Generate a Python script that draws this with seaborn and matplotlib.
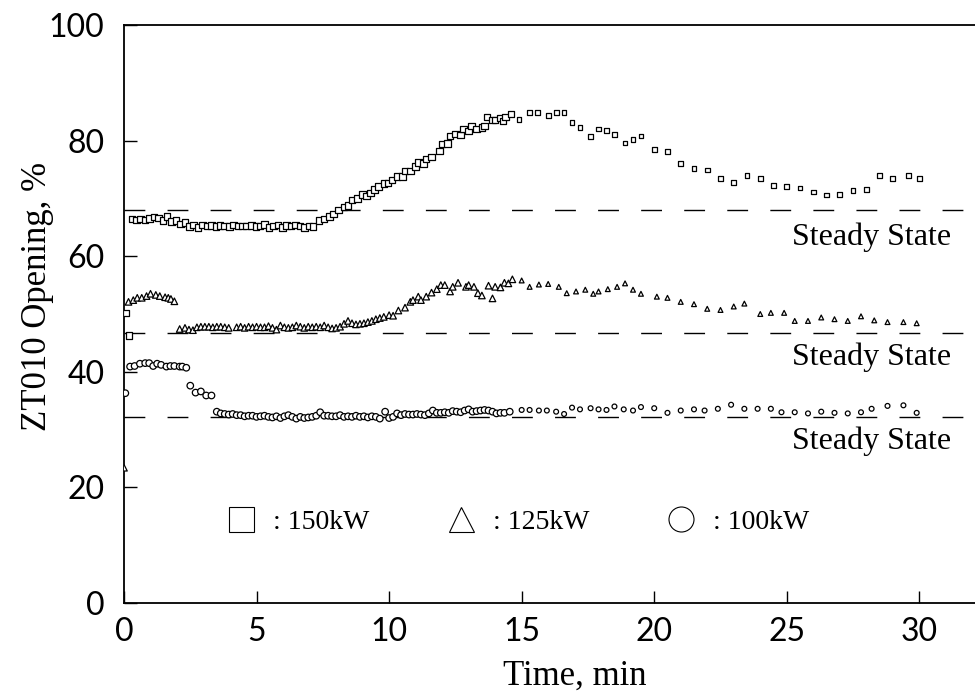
import pandas as pd
import matplotlib
matplotlib.use("Agg")
import matplotlib.pyplot as plt
from matplotlib.lines import Line2D
import seaborn as sns

# --- data (time in min, ZT010 opening in %) ---
t_150 = [0.08, 0.19,
         0.30, 0.47, 0.63, 0.80, 0.97, 1.13, 1.30, 1.47, 1.63, 1.80, 1.97, 2.13, 2.30, 2.47,
         2.63, 2.80, 2.97, 3.13, 3.30, 3.47, 3.63, 3.80, 3.97, 4.13, 4.30, 4.47, 4.63, 4.80,
         4.97, 5.13, 5.30, 5.47, 5.63, 5.80, 5.97, 6.13, 6.30, 6.47, 6.63, 6.80, 6.97, 7.13,
         7.35, 7.55, 7.75, 7.90, 8.10, 8.30, 8.45, 8.60, 8.80, 9.00, 9.15, 9.30, 9.45, 9.60,
         9.80, 9.95, 10.1, 10.3, 10.5, 10.6, 10.8, 11.0, 11.1, 11.3, 11.4, 11.6, 11.9, 12.0,
         12.2, 12.3, 12.5, 12.7, 12.8, 13.0, 13.1, 13.3, 13.5, 13.6, 13.7, 13.9, 14.0, 14.2,
         14.3, 14.4, 14.6,
         14.9, 15.3, 15.6, 16.0, 16.3, 16.6, 16.9, 17.2, 17.6, 17.9, 18.2, 18.5, 18.9, 19.2,
         19.5, 20.0, 20.5, 21.0, 21.5, 22.0, 22.5, 23.0, 23.5, 24.0, 24.5, 25.0, 25.5, 26.0,
         26.5, 27.0, 27.5, 28.0, 28.5, 29.0, 29.6, 30.0]
v_150 = [50.2, 46.3,
         66.4, 66.3, 66.4, 66.3, 66.5, 66.8, 66.6, 66.2, 66.9, 66.0, 66.2, 65.6, 65.8, 65.1,
         65.4, 65.0, 65.4, 65.2, 65.3, 65.1, 65.3, 65.2, 65.1, 65.4, 65.2, 65.2, 65.2, 65.3,
         65.1, 65.2, 65.5, 65.0, 65.2, 65.4, 65.0, 65.3, 65.2, 65.4, 65.2, 65.0, 65.2, 65.1,
         66.2, 66.4, 66.9, 67.3, 68.0, 68.5, 68.8, 69.7, 70.0, 70.7, 70.4, 70.9, 71.5, 72.1,
         72.6, 72.7, 73.2, 73.8, 73.8, 74.7, 74.7, 75.5, 76.2, 76.0, 76.8, 77.2, 78.2, 79.4,
         79.5, 80.8, 81.1, 81.0, 82.0, 81.7, 82.5, 82.0, 82.3, 82.5, 84.1, 83.6, 83.6, 83.9,
         83.4, 84.1, 84.6,
         83.7, 84.8, 84.8, 84.4, 84.8, 84.8, 83.1, 82.2, 80.7, 82.0, 81.7, 81.1, 79.6, 80.2,
         80.8, 78.4, 78.1, 76.1, 75.2, 74.9, 73.5, 72.8, 73.9, 73.5, 72.2, 72.0, 71.8, 71.1,
         70.6, 70.7, 71.3, 71.6, 74.0, 73.4, 74.0, 73.4]

t_125 = [0.0,
         0.17, 0.35, 0.50, 0.67, 0.85, 1.00, 1.20, 1.35, 1.55, 1.67, 1.77, 1.90,
         2.10, 2.30, 2.45, 2.60, 2.75, 2.90, 3.05, 3.20, 3.35, 3.50, 3.65, 3.80, 3.95, 4.25,
         4.40, 4.55, 4.70, 4.85, 5.00, 5.15, 5.30, 5.45, 5.60, 5.75, 5.90, 6.05, 6.20, 6.35,
         6.50, 6.65, 6.80, 6.95, 7.10, 7.25, 7.40, 7.55, 7.70, 7.85, 8.00, 8.15, 8.30, 8.45,
         8.60, 8.75, 8.90, 9.05, 9.20, 9.35, 9.50, 9.65, 9.80, 10.0, 10.15, 10.35, 10.6, 10.8,
         10.9, 11.1, 11.2, 11.4, 11.6, 11.8, 11.95, 12.1, 12.3, 12.4, 12.6, 12.9, 13.0, 13.2,
         13.35, 13.5, 13.75, 13.9, 14.0, 14.2, 14.35, 14.5, 14.65,
         15.0, 15.3, 15.65, 16.0, 16.4, 16.7, 17.05, 17.4, 17.7, 17.9, 18.25, 18.6, 18.9, 19.2,
         19.5, 20.1, 20.5, 21.0, 21.5, 22.0, 22.5, 23.0, 23.4, 24.0, 24.4, 24.9, 25.3, 25.8,
         26.3, 26.8, 27.3, 27.8, 28.3, 28.8, 29.4, 29.9]
v_125 = [23.4,
         52.1, 52.4, 52.8, 52.8, 53.1, 53.5, 53.3, 53.1, 52.9, 52.8, 52.6, 52.2,
         47.4, 47.6, 47.3, 47.2, 47.7, 47.8, 47.8, 47.8, 47.7, 47.8, 47.8, 47.7, 47.6, 47.7,
         47.8, 47.6, 47.8, 47.7, 47.8, 47.7, 47.7, 47.9, 47.6, 47.3, 48.0, 47.7, 47.6, 47.7,
         48.0, 47.8, 47.6, 47.8, 47.7, 47.8, 47.7, 48.0, 47.7, 47.5, 47.6, 47.8, 48.3, 48.8,
         48.4, 48.2, 48.3, 48.4, 48.6, 48.8, 49.1, 49.3, 49.5, 49.8, 49.7, 50.6, 51.1, 52.1,
         52.4, 53.0, 52.4, 53.0, 53.7, 54.3, 55.0, 55.0, 53.9, 54.7, 55.4, 54.7, 55.0, 54.7,
         53.6, 53.2, 54.9, 52.7, 54.7, 54.6, 55.4, 55.3, 56.0,
         55.8, 54.7, 55.1, 55.2, 54.7, 53.6, 53.9, 54.2, 53.5, 53.9, 54.3, 54.7, 55.3, 54.2,
         53.5, 53.0, 52.8, 52.1, 51.7, 50.9, 50.7, 51.3, 51.8, 50.0, 50.2, 50.2, 48.8, 48.8,
         49.4, 49.1, 48.8, 49.6, 48.9, 48.6, 48.6, 48.4]

t_100 = [0.05,
         0.23, 0.40, 0.60, 0.80, 0.95, 1.10, 1.25, 1.40, 1.60, 1.75, 1.90, 2.10, 2.20, 2.35,
         2.50, 2.70, 2.90, 3.10, 3.30,
         3.50, 3.65, 3.80, 3.95, 4.10, 4.25, 4.40, 4.55, 4.70, 4.85, 5.00, 5.15, 5.30, 5.45,
         5.60, 5.75, 5.90, 6.05, 6.20, 6.35, 6.50, 6.65, 6.80, 6.95, 7.10, 7.25, 7.40, 7.55,
         7.70, 7.85, 8.00, 8.15, 8.30, 8.45, 8.60, 8.75, 8.90, 9.05, 9.20, 9.35, 9.50, 9.65,
         9.85, 10.0, 10.15, 10.3, 10.45, 10.6, 10.75, 10.9, 11.05, 11.2, 11.35, 11.5, 11.65,
         11.8, 11.95, 12.1, 12.25, 12.4, 12.55, 12.7, 12.85, 13.0, 13.15, 13.3, 13.45, 13.6,
         13.75, 13.9, 14.05, 14.2, 14.35, 14.55,
         15.0, 15.3, 15.65, 15.95, 16.3, 16.6, 16.9, 17.2, 17.6, 17.9, 18.2, 18.5, 18.85, 19.2,
         19.5, 20.0, 20.5, 21.0, 21.5, 21.9, 22.4, 22.9, 23.4, 23.9, 24.4, 24.8, 25.3, 25.8,
         26.3, 26.8, 27.3, 27.8, 28.2, 28.8, 29.4, 29.9]
v_100 = [36.3,
         40.9, 41.0, 41.4, 41.5, 41.5, 41.0, 41.4, 41.2, 40.9, 41.0, 41.0, 40.9, 40.9, 40.7,
         37.6, 36.4, 36.6, 35.9, 35.9,
         33.1, 32.8, 32.7, 32.6, 32.7, 32.5, 32.5, 32.3, 32.4, 32.4, 32.2, 32.3, 32.4, 32.2,
         32.1, 32.3, 32.0, 32.3, 32.5, 32.2, 31.9, 32.2, 32.0, 32.1, 32.2, 32.4, 33.0, 32.4,
         32.4, 32.3, 32.3, 32.5, 32.2, 32.3, 32.2, 32.4, 32.2, 32.3, 32.1, 32.3, 32.2, 31.9,
         33.1, 32.0, 32.2, 32.8, 32.5, 32.7, 32.6, 32.6, 32.7, 32.6, 32.5, 32.8, 33.3,
         32.9, 32.9, 33.0, 32.9, 33.2, 33.1, 33.0, 33.3, 33.5, 33.1, 33.2, 33.3, 33.4,
         33.3, 33.1, 32.8, 32.9, 32.9, 33.1,
         33.4, 33.4, 33.3, 33.3, 33.1, 32.7, 33.8, 33.5, 33.7, 33.5, 33.4, 34.0, 33.5, 33.3,
         33.9, 33.7, 32.9, 33.3, 33.5, 33.3, 33.6, 34.3, 33.6, 33.6, 33.6, 33.0, 33.0, 32.8,
         33.1, 32.9, 32.8, 33.0, 33.6, 34.1, 34.2, 32.9]

series_names = ["150kW", "125kW", "100kW"]
steady_state = [68.0, 46.7, 32.1]

# --- build long table for seaborn ---
frames = []
for name, t, v in zip(series_names, [t_150, t_125, t_100], [v_150, v_125, v_100]):
    frames.append(pd.DataFrame({"time": t, "opening": v, "load": name}))
df = pd.concat(frames, ignore_index=True)
# later samples were logged more sparsely and print smaller in the original
df["stage"] = ["dense" if x < 14.8 else "sparse" for x in df["time"]]

serif = "Liberation Serif"
sans = "Lato"

fig = plt.figure(figsize=(9.75, 6.96), dpi=100)
ax = fig.add_axes([124 / 975, 93 / 696, 851 / 975, 578 / 696])

markers = {"150kW": "s", "125kW": "^", "100kW": "o"}
sns.scatterplot(data=df, x="time", y="opening", style="load", markers=markers,
                size="stage", sizes={"dense": 22, "sparse": 12},
                color="black", facecolor="white", edgecolor="black",
                linewidth=0.9, legend=False, ax=ax, zorder=3)

# steady state reference lines
for level in steady_state:
    ln = ax.axhline(level, color="black", lw=1.0, zorder=2)
    ln.set_dashes([15, 16])

label_y = [63.3, 42.6, 27.9]
for yy in label_y:
    ax.text(31.2, yy, "Steady State", ha="right", va="center",
            fontsize=23, family=serif)

# legend row inside the plot
handles = [Line2D([], [], marker=markers[n], ls="none", markersize=18,
                  markerfacecolor="none", markeredgecolor="black", markeredgewidth=0.8)
           for n in series_names]
labels = [": " + n for n in series_names]
ax.legend(handles, labels, loc="center", bbox_to_anchor=(0.462, 0.140), ncol=3,
          frameon=False, prop={"family": serif, "size": 20},
          handletextpad=0.55, columnspacing=2.7, handlelength=1.2)

ax.set_xlim(0, 32.1)
ax.set_ylim(0, 100)
ax.set_xticks([0, 5, 10, 15, 20, 25, 30])
ax.set_yticks([0, 20, 40, 60, 80, 100])
ax.tick_params(direction="in", length=9, width=1.0, labelsize=23, pad=10)
ax.tick_params(axis="y", pad=14)
for lab in ax.get_xticklabels() + ax.get_yticklabels():
    lab.set_family(sans)
for side in ["left", "bottom", "top"]:
    ax.spines[side].set_linewidth(1.3)
ax.spines["right"].set_visible(False)

ax.set_xlabel("Time, min", family=serif, fontsize=25)
ax.set_ylabel("ZT010 Opening, %", family=serif, fontsize=25)
ax.xaxis.set_label_coords(0.53, -0.098)
ax.yaxis.set_label_coords(-0.082, 0.53)

fig.savefig("out.png", dpi=100)
